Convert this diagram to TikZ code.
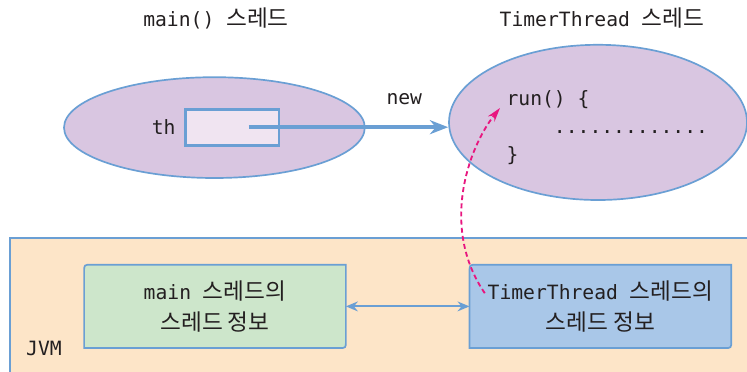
\documentclass[tikz,border=0pt]{standalone}
\usepackage{fontspec}
\setmonofont{DejaVu Sans Mono}
\newfontfamily\krfont[Scale=1.15]{Noto Sans CJK KR}
\usetikzlibrary{arrows.meta,shapes.geometric,positioning,backgrounds}
\definecolor{ln}{RGB}{106,159,212}
\definecolor{thr}{RGB}{217,198,225}
\definecolor{ptr}{RGB}{240,228,241}
\definecolor{jvm}{RGB}{253,229,200}
\definecolor{inf1}{RGB}{205,230,203}
\definecolor{inf2}{RGB}{169,199,232}
\definecolor{pink}{RGB}{232,22,127}
\definecolor{txt}{RGB}{35,31,32}
\newcommand{\kr}[1]{{\krfont #1}}

\begin{document}
\begin{tikzpicture}[
        y={(0cm,-1cm)},
        font=\ttfamily\fontsize{14}{20}\selectfont, text=txt,
        th/.style={ellipse, draw=ln, fill=thr, line width=1.2pt, inner sep=0pt},
        var/.style={rectangle, draw=ln, fill=ptr, line width=1.9pt, minimum width=2.33cm, minimum height=0.9cm},
        info/.style={rectangle, minimum width=6.53cm, minimum height=2.07cm, inner sep=0pt,
                     align=center, font=\ttfamily\fontsize{14}{22.5}\selectfont},
        link/.style={-{Stealth[length=13pt,width=10pt]}, line width=2.6pt, ln},
        both/.style={{Stealth[length=8.5pt,width=7pt]}-{Stealth[length=8.5pt,width=7pt]}, line width=1.4pt, ln},
        call/.style={-{Stealth[length=10pt,width=6pt]}, line width=1.3pt, pink, dash pattern=on 3.5pt off 2.3pt},
        jvmbox/.style={draw=ln, fill=jvm, line width=1.5pt},
        ]
        \useasboundingbox (0,0) rectangle (18.675,9.3);
        % threads
        \node(mainT) at (5.4,0.45) {main() \kr{스레드}};
        \node(timerT) at (15.05,0.45) {TimerThread \kr{스레드}};
        \node(main)[th, minimum width=7.52cm, minimum height=2.52cm] at (5.36,3.19) {};
        \node(thbox)[var] at (5.81,3.18) {};
        \node(thlbl)[left=1mm of thbox] {th};
        \node(timer)[th, minimum width=7.45cm, minimum height=3.88cm] at (14.95,3.06) {};
        \node(run)[anchor=west, align=left] at (12.54,3.2)
          {run() \{\\\phantom{xxxx}.............\\\}};
        \coordinate(thptr) at ([xshift=4.1mm]thbox.center);
        \draw[link](thptr) -- (thptr -| timer.west) node[pos=0.78, above=4mm, text=txt]{new};
        % JVM
        \node(jvmlbl) at (1.1,8.7) {JVM};
        \node(mi)[info] at (5.375,7.66) {main \kr{스레드의}\\\kr{스레드 정보}};
        \node(ti)[info] at (15.01,7.66) {TimerThread \kr{스레드의}\\\kr{스레드 정보}};
        \begin{scope}[on background layer]
          \draw[jvmbox] (0.25,5.95) rectangle (19.5,9.8);
          \foreach \b/\c in {mi/inf1,ti/inf2}{
            \draw[ln, fill=\c, line width=1.2pt]
              ([yshift=-1.8mm]\b.north west) .. controls (\b.north west) .. ([xshift=1.8mm]\b.north west)
              -- (\b.north east)
              -- ([yshift=1.8mm]\b.south east) .. controls (\b.south east) .. ([xshift=-1.8mm]\b.south east)
              -- (\b.south west) -- cycle;
          }
        \end{scope}
        \draw[both](mi) -- (ti);
        \coordinate(callsrc) at (12.12,7.33);
        \coordinate(runpt) at (12.5,2.7);
        \draw[call](callsrc) .. controls (11.0,5.7) and (11.7,3.7) .. (runpt);
\end{tikzpicture}
\end{document}
